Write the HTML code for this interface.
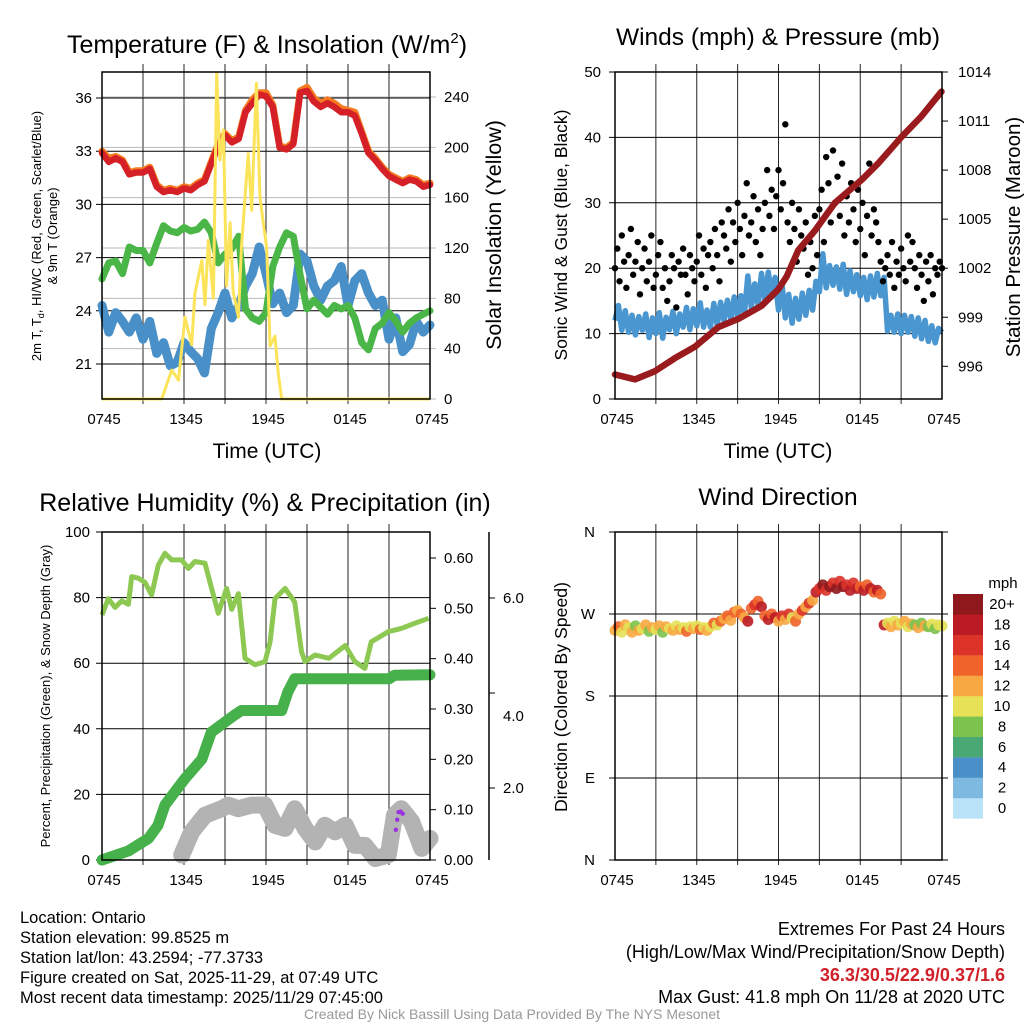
<!DOCTYPE html>
<html><head><meta charset="utf-8"><style>
html,body{margin:0;padding:0;background:#fff;}
svg{display:block;font-family:"Liberation Sans",Arial,sans-serif;}
</style></head><body>
<svg id="fig" width="1024" height="1024" viewBox="0 0 1024 1024" xmlns="http://www.w3.org/2000/svg">
<rect width="1024" height="1024" fill="#fff"/>
<g id="layer"></g>
<text x="267" y="53" font-size="25" text-anchor="middle">Temperature (F) &amp; Insolation (W/m<tspan font-size="15" dy="-10">2</tspan><tspan dy="10">)</tspan></text>
<text x="778" y="45" font-size="24.5" text-anchor="middle">Winds (mph) &amp; Pressure (mb)</text>
<text x="265" y="511" font-size="25" text-anchor="middle">Relative Humidity (%) &amp; Precipitation (in)</text>
<text x="778" y="505" font-size="24.5" text-anchor="middle">Wind Direction</text>

<text transform="translate(41,236) rotate(-90)" font-size="13" text-anchor="middle">2m T, T<tspan font-size="9" dy="3">d</tspan><tspan dy="-3">, HI/WC (Red, Green, Scarlet/Blue)</tspan></text>
<text transform="translate(57,236) rotate(-90)" font-size="13" text-anchor="middle">&amp; 9m T (Orange)</text>
<text transform="translate(501,235) rotate(-90)" font-size="21.5" text-anchor="middle">Solar Insolation (Yellow)</text>
<text transform="translate(567,235) rotate(-90)" font-size="17.5" text-anchor="middle">Sonic Wind &amp; Gust (Blue, Black)</text>
<text transform="translate(1020,237) rotate(-90)" font-size="20.5" text-anchor="middle">Station Pressure (Maroon)</text>
<text transform="translate(50,696) rotate(-90)" font-size="13" text-anchor="middle">Percent, Precipitation (Green), &amp; Snow Depth (Gray)</text>
<text transform="translate(567,697) rotate(-90)" font-size="17.7" text-anchor="middle">Direction (Colored By Speed)</text>

<text x="267" y="458" font-size="21" text-anchor="middle">Time (UTC)</text>
<text x="778" y="458" font-size="21" text-anchor="middle">Time (UTC)</text>

<g font-size="16.5">
<text x="20" y="923">Location: Ontario</text>
<text x="20" y="943">Station elevation: 99.8525 m</text>
<text x="20" y="963">Station lat/lon: 43.2594; -77.3733</text>
<text x="20" y="983">Figure created on Sat, 2025-11-29, at 07:49 UTC</text>
<text x="20" y="1003">Most recent data timestamp: 2025/11/29 07:45:00</text>
</g>
<g font-size="18" text-anchor="end">
<text x="1005" y="935">Extremes For Past 24 Hours</text>
<text x="1005" y="958">(High/Low/Max Wind/Precipitation/Snow Depth)</text>
<text x="1005" y="981" fill="#d0202a" font-weight="bold">36.3/30.5/22.9/0.37/1.6</text>
<text x="1005" y="1003">Max Gust: 41.8 mph On 11/28 at 2020 UTC</text>
</g>
<text x="512" y="1019" font-size="14" fill="#999" text-anchor="middle">Created By Nick Bassill Using Data Provided By The NYS Mesonet</text>
</svg>
<script>
// ---------- DATA ----------
const xTickLabels = ["0745","1345","1945","0145","0745"];
const halfHours = [0,0.5,1,1.5,2,2.5,3,3.5,4,4.5,5,5.5,6,6.5,7,7.5,8,8.5,9,9.5,10,10.5,11,11.5,12,12.5,13,13.5,14,14.5,15,15.5,16,16.5,17,17.5,18,18.5,19,19.5,20,20.5,21,21.5,22,22.5,23,23.5,24];
const tempRed = [32.9,32.4,32.6,32.4,31.7,31.8,31.8,32.0,31.0,30.7,30.8,30.7,30.9,30.8,31.1,31.3,32.3,33.3,33.9,33.5,33.7,35.2,35.7,36.2,36.1,35.5,33.2,33.1,33.4,36.3,36.4,35.8,35.5,35.7,35.5,35.2,35.2,35.0,34.0,32.9,32.5,32.0,31.6,31.4,31.2,31.4,31.3,31.0,31.1];
const temp9m = [33.0,32.6,32.7,32.5,31.8,31.9,31.9,32.1,31.1,30.8,30.9,30.8,31.0,30.9,31.2,31.4,32.4,33.4,34.0,33.6,33.8,35.3,35.9,36.3,36.3,35.6,33.3,33.2,33.5,36.4,36.6,36.0,35.7,35.9,35.7,35.4,35.3,35.2,34.1,33.0,32.6,32.1,31.7,31.5,31.3,31.5,31.4,31.1,31.2];
const dewGreen = [25.8,26.7,26.8,26.1,27.6,27.4,27.4,26.7,27.8,28.8,28.5,28.4,28.7,28.5,28.6,29.0,28.4,26.7,27.2,27.5,28.2,24.1,23.6,23.4,23.9,26.5,27.6,28.4,28.2,26.0,24.1,24.6,24.2,23.8,24.3,24.1,24.3,23.6,22.2,21.8,23.0,23.3,23.9,23.4,22.8,23.3,23.6,23.8,24.0];
const windChillBlue = [24.3,22.8,23.9,23.4,22.8,23.6,22.4,23.4,21.6,22.2,20.9,21.1,22.2,21.7,21.3,20.5,23.0,23.9,25.0,23.6,24.3,25.4,26.1,27.6,26.1,24.4,25.0,23.9,24.3,27.2,26.8,25.4,24.6,25.4,25.7,26.5,24.3,25.7,26.1,25.0,24.3,24.6,22.4,23.6,21.7,22.1,23.4,22.8,23.2];
const solarTimes = [0,4.37,5.1,5.6,6.07,6.56,6.8,7.3,7.54,7.78,8.15,8.39,8.63,8.88,9.12,9.37,9.6,9.98,10.2,10.7,10.95,11.3,11.56,11.8,12.05,12.3,12.66,12.9,13.15,24];
const solarValues = [0,0,23,15,65,43,84,110,75,126,80,259,190,214,90,140,85,65,120,195,150,251,160,140,120,42,50,20,0,0];
const tempTicks = [21,24,27,30,33,36];
const solarTicks = [0,40,80,120,160,200,240];

const presTimes = [0,1.47,2.93,4.4,5.87,7.58,9.05,10.76,11.98,12.6,13.45,14.67,16.14,18.1,19.3,21.0,22.5,23.96];
const presValues = [995.5,995.2,995.7,996.5,997.2,998.4,998.9,999.7,1000.7,1001.5,1003.1,1004.3,1006.0,1007.4,1008.4,1010.0,1011.3,1012.8];
const quarterHours = Array.from({length:97},(_,i)=>i/4);
const windSpeed = [12,14.3,10.5,13.5,10.2,12.8,9.8,12.6,10.5,13.0,9.4,12.4,10.0,13.2,9.3,12.5,10.6,13.4,10.0,13.0,11.0,14.0,10.6,13.8,11.2,14.7,11.0,13.6,11.0,14.6,11.3,14.8,12.0,15.1,12.2,15.6,12.6,15.8,13.0,18.8,14.0,17.6,14.4,19.2,15.2,19.4,15.6,18.6,13.6,17.8,12.4,16.0,11.6,15.4,12.2,16.2,12.8,16.6,13.6,18.0,16.4,22.2,17.0,20.4,17.4,20.2,16.8,20.6,16.0,19.6,16.4,19.0,15.8,18.6,15.2,18.8,15.6,19.2,15.8,18.6,10.4,12.8,10.2,13.0,10.0,12.8,10.2,12.6,9.6,12.4,9.2,12.0,8.8,11.2,8.6,10.8,10.2];
const gustTimes = Array.from({length:145},(_,i)=>i/6);
const gustValues = [20,23,18,25,21,17,22,26,19,21,24,16,20,23,18,21,25,17,19,22,24,17,20,15,18,22,20,14,21,19,23,19,16,22,20,18,21,25,19,23,17,22,24,20,26,22,18,27,25,23,29,21,27,24,30,26,22,28,33,25,27,31,24,29,22,26,30,35,28,32,26,31,35,29,33,42,27,24,30,26,21,29,25,23,27,19,24,20,28,22,29,32,24,37,33,27,38,30,34,28,36,25,31,27,33,29,24,32,26,30,22,28,36,25,29,27,24,21,18,20,22,19,24,17,21,19,23,20,18,25,21,24,20,17,22,19,15,21,18,22,16,20,19,21,20];
const windTicks = [0,10,20,30,40,50];
const presTicks = [996,999,1002,1005,1008,1011,1014];

const rhTimes = [0,.46,.95,1.44,1.93,2.17,2.66,3.15,3.63,4.12,4.6,5.1,5.83,6.32,6.8,7.54,8.02,8.51,9.12,9.49,9.98,10.46,11.2,11.93,12.3,12.66,13.4,14.1,14.6,14.85,15.6,16.6,17.8,18.5,19.24,19.7,20.95,21.9,22.9,23.9];
const rhValues = [74.7,79.7,77,79,78,86.4,85.9,84.6,80.8,89.9,93.5,91.5,91.5,88.9,91,90.5,82.8,75.2,82.8,76.4,81.2,61.5,59.5,60.5,66.5,79.7,82.8,78.7,63.5,60.5,62.5,61.5,65.4,60.5,58.4,66.5,69.6,70.6,72.2,73.7];
const precipTimes = [0,1.93,3.4,4.1,4.6,6.07,7.3,8.0,9.7,10.2,13.15,13.6,14.1,21.0,21.4,24];
const precipValues = [0,0.018,0.043,0.069,0.109,0.162,0.2,0.254,0.288,0.297,0.297,0.334,0.36,0.36,0.367,0.368];
const snowTimes = [5.83,6.56,7.54,8.76,9.24,9.98,10.95,11.93,12.66,13.4,14.1,14.85,15.6,16.3,17.05,17.8,18.5,19.24,20.0,20.95,21.4,21.9,22.66,23.4,24];
const snowValues = [.01,.056,.089,.102,.109,.102,.109,.109,.069,.063,.102,.063,.036,.069,.056,.069,.029,.029,.003,.010,.089,.102,.076,.023,.043];
const purpleTimes = [21.5,21.6,21.7,21.85,22.0];
const purpleValues = [0.06,0.08,0.095,0.096,0.092];
const rhTicks = [0,20,40,60,80,100];
const precipTicks = [0,0.1,0.2,0.3,0.4,0.5,0.6];
const snowTickLabels = ["2.0","4.0","6.0"];

const dirValues = [252,256,250,258,255,250,257,252,254,258,251,255,253,257,250,256,254,252,257,253,255,251,256,254,257,253,255,252,256,260,258,262,265,268,263,272,274,270,266,262,276,280,284,278,268,264,270,266,262,268,264,270,266,262,270,274,278,282,285,294,298,302,296,300,304,298,306,300,302,296,304,298,300,296,302,298,294,296,292,258,260,256,262,258,260,262,256,259,258,255,260,257,256,259,254,258,257];
const dirTickLabels = ["N","E","S","W","N"];
const speedBinLabels = ["0","2","4","6","8","10","12","14","16","18","20+"];
const speedBinColors = ["#b8e3f8","#7eb9e2","#4a8fc7","#4aa874","#7bc24e","#e6e157","#f7a843","#f0632a","#dc3329","#bb1c24","#8f181c"];

// ---------- HELPERS ----------
const NS = "http://www.w3.org/2000/svg";
const layer = document.getElementById("layer");
function mk(tag, attrs, name, parent){
  const el = document.createElementNS(NS, tag);
  for (const k in attrs) el.setAttribute(k, attrs[k]);
  
  
  (parent || layer).appendChild(el);
  return el;
}
function txt(x,y,s,size,anchor,name){
  const t = mk("text",{x:x,y:y,"font-size":size,"text-anchor":anchor||"middle"},name);
  t.textContent = s; return t;
}
function lin(d0,d1,r0,r1){ return v => r0 + (v-d0)*(r1-r0)/(d1-d0); }
function pathFrom(xs, ys, sx, sy){
  let d=""; for(let i=0;i<xs.length;i++){ d += (i?"L":"M") + sx(xs[i]).toFixed(1) + " " + sy(ys[i]).toFixed(1); }
  return d;
}
function frame(P, name){
  const sx = lin(0,24,P.x0,P.x1);
  for(let h=3;h<24;h+=3){
    mk("line",{x1:sx(h),x2:sx(h),y1:P.y0-8,y2:P.y1+5,stroke:"#000","stroke-width":1,"stroke-opacity":0.85},name+"-vgrid");
  }
  for(let i=0;i<xTickLabels.length;i++){
    const x = sx(i*6);
    txt(x+2,P.y1+25,xTickLabels[i],15,"middle",name+"-x-tick-label");
  }
  return sx;
}
function box(P,name){
  mk("rect",{x:P.x0,y:P.y0,width:P.x1-P.x0,height:P.y1-P.y0,fill:"none",stroke:"#000","stroke-width":1.5},name+"-frame");
}

// ---------- PANEL 1 ----------
const P1 = {x0:102,x1:430,y0:72,y1:399};
const sx1 = frame(P1,"temp");
const sy1 = lin(21,36,364,98);
const syS = lin(0,240,399,97);
tempTicks.forEach(v=>{
  mk("line",{x1:P1.x0-6,x2:P1.x1,y1:sy1(v),y2:sy1(v),stroke:"#000","stroke-width":1},"temp-hgrid");
  txt(P1.x0-10,sy1(v)+5,String(v),15,"end","temp-y-tick-label");
});
solarTicks.forEach(v=>{
  mk("line",{x1:P1.x0,x2:P1.x1+6,y1:syS(v),y2:syS(v),stroke:"#888","stroke-width":1,"stroke-opacity":0.6},"solar-grid");
  txt(P1.x1+14,syS(v)+5,String(v),15,"start","solar-y-tick-label");
});
mk("path",{d:pathFrom(halfHours,windChillBlue,sx1,sy1),fill:"none",stroke:"#4a90c8","stroke-width":9,"stroke-linejoin":"round","stroke-linecap":"round"},"wind-chill-line");
mk("path",{d:pathFrom(halfHours,dewGreen,sx1,sy1),fill:"none",stroke:"#4bb648","stroke-width":7,"stroke-linejoin":"round","stroke-linecap":"round"},"dewpoint-line");
mk("path",{d:pathFrom(halfHours,temp9m,sx1,sy1),fill:"none",stroke:"#f47b20","stroke-width":7,"stroke-linejoin":"round","stroke-linecap":"round"},"temp-9m-line");
mk("path",{d:pathFrom(halfHours,tempRed,sx1,sy1),fill:"none",stroke:"#d62027","stroke-width":6.5,"stroke-linejoin":"round","stroke-linecap":"round"},"temp-2m-line");
mk("path",{d:pathFrom(solarTimes,solarValues,sx1,syS),fill:"none",stroke:"#fbe35a","stroke-width":3,"stroke-linejoin":"round"},"solar-line");
box(P1,"temp");

// ---------- PANEL 2 ----------
const P2 = {x0:615,x1:942,y0:72,y1:399};
const sx2 = frame(P2,"wind");
const sy2 = lin(0,50,399,72);
const syP = lin(994,1014,399,72);
windTicks.forEach(v=>{
  mk("line",{x1:P2.x0-6,x2:P2.x1,y1:sy2(v),y2:sy2(v),stroke:"#000","stroke-width":1},"wind-hgrid");
  txt(P2.x0-14,sy2(v)+5,String(v),15,"end","wind-y-tick-label");
});
presTicks.forEach(v=>{
  mk("line",{x1:P2.x1,x2:P2.x1+6,y1:syP(v),y2:syP(v),stroke:"#000","stroke-width":1},"pressure-tick");
  txt(P2.x1+16,syP(v)+5,String(v),15,"start","pressure-y-tick-label");
});
mk("path",{d:pathFrom(quarterHours,windSpeed,sx2,sy2),fill:"none",stroke:"#4a96d0","stroke-width":5.5,"stroke-linejoin":"round"},"sustained-wind-line");
gustValues.forEach((g,i)=>{
  mk("circle",{cx:sx2(gustTimes[i]),cy:sy2(g),r:3.2,fill:"#000"},"gust-point");
});
mk("path",{d:pathFrom(presTimes,presValues,sx2,syP),fill:"none",stroke:"#9a1b1e","stroke-width":6.5,"stroke-linejoin":"round","stroke-linecap":"round"},"pressure-line");
box(P2,"wind");

// ---------- PANEL 3 ----------
const P3 = {x0:102,x1:430,y0:532,y1:860};
const sx3 = frame(P3,"rh");
const sy3 = lin(0,100,860,532);
const syR = lin(0,0.6,860,558);
rhTicks.forEach(v=>{
  mk("line",{x1:P3.x0-6,x2:P3.x1,y1:sy3(v),y2:sy3(v),stroke:"#000","stroke-width":1},"rh-hgrid");
  txt(P3.x0-12,sy3(v)+5,String(v),15,"end","rh-y-tick-label");
});
precipTicks.forEach(v=>{
  mk("line",{x1:P3.x1,x2:P3.x1+6,y1:syR(v),y2:syR(v),stroke:"#000","stroke-width":1},"precip-tick");
  txt(P3.x1+14,syR(v)+5,v.toFixed(2),15,"start","precip-y-tick-label");
});
mk("line",{x1:489,x2:489,y1:532,y2:860,stroke:"#000","stroke-width":1.5},"snow-axis-line");
[788,693,598].forEach((y)=>{
  mk("line",{x1:489,x2:495,y1:y,y2:y,stroke:"#000","stroke-width":1},"snow-tick");
});
[[788,0],[716,1],[598,2]].forEach(p=>{ txt(503,p[0]+5,snowTickLabels[p[1]],15,"start","snow-y-tick-label"); });
mk("path",{d:pathFrom(snowTimes,snowValues,sx3,syR),fill:"none",stroke:"#b3b3b3","stroke-width":17,"stroke-linejoin":"round","stroke-linecap":"round"},"snow-depth-line");
mk("path",{d:pathFrom(rhTimes,rhValues,sx3,sy3),fill:"none",stroke:"#8dc853","stroke-width":5,"stroke-linejoin":"round"},"humidity-line");
mk("path",{d:pathFrom(precipTimes,precipValues,sx3,syR),fill:"none",stroke:"#46b04a","stroke-width":11,"stroke-linejoin":"round","stroke-linecap":"round"},"precipitation-line");
purpleValues.forEach((v,i)=>{
  mk("circle",{cx:sx3(purpleTimes[i]),cy:syR(v),r:2.2,fill:"#9b30e0"},"purple-point");
});
box(P3,"rh");

// ---------- PANEL 4 ----------
const P4 = {x0:615,x1:942,y0:532,y1:860};
const sx4 = frame(P4,"dir");
const sy4 = lin(0,360,860,532);
dirTickLabels.forEach((s,i)=>{
  const y = sy4(i*90);
  mk("line",{x1:P4.x0-6,x2:P4.x1+6,y1:y,y2:y,stroke:"#000","stroke-width":1},"dir-hgrid");
  txt(P4.x0-20,y+5,s,15,"end","dir-y-tick-label");
});
function speedColor(s){ let b=Math.min(10,Math.max(0,Math.floor(s/2))); return speedBinColors[b]; }
dirValues.forEach((d,i)=>{
  mk("circle",{cx:sx4(quarterHours[i]),cy:sy4(d),r:5.5,fill:speedColor(windSpeed[i]),"fill-opacity":0.9},"direction-point");
});
box(P4,"dir");
txt(1003,588,"mph",15,"middle","colorbar-title");
speedBinColors.forEach((c,i)=>{
  const y = 594 + (10-i)*20.4;
  mk("rect",{x:953,y:y,width:30,height:20.6,fill:c},"colorbar-bin");
  txt(1002,y+15,speedBinLabels[i],15,"middle","colorbar-label");
});
</script>
</body></html>
